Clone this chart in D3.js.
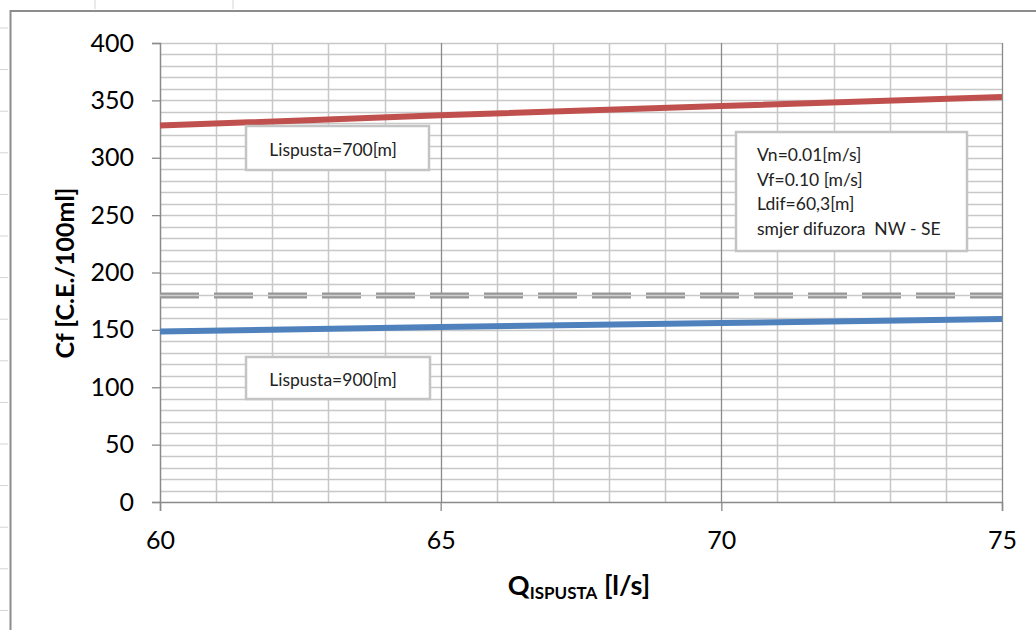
<!DOCTYPE html>
<html>
<head>
<meta charset="utf-8">
<script src="https://cdn.jsdelivr.net/npm/d3@7"></script>
<style>
  body { margin: 0; background: #fff; }
  svg { display: block; font-family: Lato, "Open Sans", sans-serif; }
</style>
</head>
<body>
<div id="canvas"></div>
<script>
// data
var qValues = [60, 65, 70, 75];
var cf700 = [328, 337, 345, 353];
var cf900 = [148.5, 152.5, 156, 159.5];
var limitValue = 180;
var yTicks = [0, 50, 100, 150, 200, 250, 300, 350, 400];
var xTicks = [60, 65, 70, 75];
var infoLines = ['Vn=0.01[m/s]', 'Vf=0.10 [m/s]', 'Ldif=60,3[m]', 'smjer difuzora  NW - SE'];

var W = 1036, H = 630;
var m = {t: 43, r: 34, b: 128, l: 160},
    w = W - m.l - m.r,
    h = H - m.t - m.b;

var svg = d3.select('#canvas').append('svg')
    .attr('width', W).attr('height', H);

// spreadsheet remnants around the chart frame
var sideTicks = d3.range(28, 630, 41.6);
svg.selectAll('.sidetick').data(sideTicks).enter().append('line')
    .attr('x1', 0).attr('x2', 8).attr('y1', function(d){ return d; }).attr('y2', function(d){ return d; })
    .attr('stroke', '#d4d4d4');
svg.selectAll('.toptick').data([95, 233]).enter().append('line')
    .attr('x1', function(d){ return d; }).attr('x2', function(d){ return d; }).attr('y1', 0).attr('y2', 9)
    .attr('stroke', '#d4d4d4');

// chart frame
svg.append('rect')
    .attr('x', 10.5).attr('y', 11).attr('width', 1040).attr('height', 640)
    .attr('fill', '#fff').attr('stroke', '#8c8c8c').attr('stroke-width', 2);

var plot = svg.append('g').attr('transform', 'translate(' + m.l + ',' + m.t + ')');

var x = d3.scaleLinear().domain([60, 75]).range([0, w]);
var y = d3.scaleLinear().domain([0, 400]).range([h, 0]);

// minor grid
plot.selectAll('.hgrid').data(d3.range(10, 401, 10)).enter().append('line')
    .attr('x1', 0).attr('x2', w)
    .attr('y1', function(d){ return Math.round(y(d)) + 0.5; })
    .attr('y2', function(d){ return Math.round(y(d)) + 0.5; })
    .attr('stroke', '#c8c8c8').attr('stroke-width', 1.5);
plot.selectAll('.vgrid').data(d3.range(61, 76, 1)).enter().append('line')
    .attr('x1', function(d){ return Math.round(x(d)) + 0.5; })
    .attr('x2', function(d){ return Math.round(x(d)) + 0.5; })
    .attr('y1', 0).attr('y2', h)
    .attr('stroke', function(d){ return d % 5 === 0 ? '#8a8a8a' : '#c8c8c8'; })
    .attr('stroke-width', function(d){ return d % 5 === 0 ? 1.3 : 1.5; });

// axes
var yAxis = plot.append('g')
    .call(d3.axisLeft(y).tickValues(yTicks).tickSize(8).tickPadding(18));
var xAxis = plot.append('g')
    .attr('transform', 'translate(0,' + h + ')')
    .call(d3.axisBottom(x).tickValues(xTicks).tickSize(9).tickPadding(20));
[yAxis, xAxis].forEach(function(a){
  a.select('.domain').attr('stroke', '#8a8a8a').attr('stroke-width', 1.5);
  a.selectAll('.tick line').attr('stroke', '#8a8a8a').attr('stroke-width', 1.3);
  a.selectAll('text').attr('font-size', 25).attr('fill', '#000')
    .attr('font-family', 'Lato, "Open Sans", sans-serif');
});

// limit line (double dashed)
plot.append('line')
    .attr('x1', 0).attr('x2', w).attr('y1', y(limitValue)).attr('y2', y(limitValue))
    .attr('stroke', '#979797').attr('stroke-width', 6).attr('stroke-dasharray', '39,15');
plot.append('line')
    .attr('x1', 0).attr('x2', w).attr('y1', y(limitValue)).attr('y2', y(limitValue))
    .attr('stroke', '#cfcfcf').attr('stroke-width', 1.5).attr('stroke-dasharray', '39,15');

// series
var line = d3.line()
    .x(function(d, i){ return x(qValues[i]); })
    .y(function(d){ return y(d); });
plot.append('path').datum(cf700)
    .attr('d', line).attr('fill', 'none')
    .attr('stroke', '#c0504d').attr('stroke-width', 6);
plot.append('path').datum(cf900)
    .attr('d', line).attr('fill', 'none')
    .attr('stroke', '#4f81bd').attr('stroke-width', 6);

// text boxes
function box(x0, y0, bw, bh) {
  svg.append('rect')
    .attr('x', x0).attr('y', y0).attr('width', bw).attr('height', bh)
    .attr('fill', '#fff').attr('stroke', '#c4c4c4').attr('stroke-width', 2.5);
}
box(246, 126, 183, 44);
svg.append('text').attr('x', 333).attr('y', 156).attr('text-anchor', 'middle')
    .attr('font-size', 17.5).attr('fill', '#222').text('Lispusta=700[m]');
box(246, 357, 184, 42);
svg.append('text').attr('x', 333).attr('y', 386).attr('text-anchor', 'middle')
    .attr('font-size', 17.5).attr('fill', '#222').text('Lispusta=900[m]');
box(736, 132, 231, 119);
svg.selectAll('.info').data(infoLines).enter().append('text')
    .attr('x', 757).attr('y', function(d, i){ return 161 + i * 24.5; })
    .attr('font-size', 17.5).attr('fill', '#222')
    .style('white-space', 'pre')
    .text(function(d){ return d; });

// axis titles
svg.append('text')
    .attr('transform', 'translate(74,273) rotate(-90)')
    .attr('text-anchor', 'middle').attr('font-size', 25).attr('font-weight', 'bold')
    .text('Cf [C.E./100ml]');
var xt = svg.append('text')
    .attr('x', 579).attr('y', 595).attr('text-anchor', 'middle')
    .attr('font-size', 27).attr('font-weight', 'bold');
xt.append('tspan').text('Q');
xt.append('tspan').attr('font-size', 17).attr('dy', 4).text('ISPUSTA');
xt.append('tspan').attr('dy', -4).text(' [l/s]');
</script>
</body>
</html>
